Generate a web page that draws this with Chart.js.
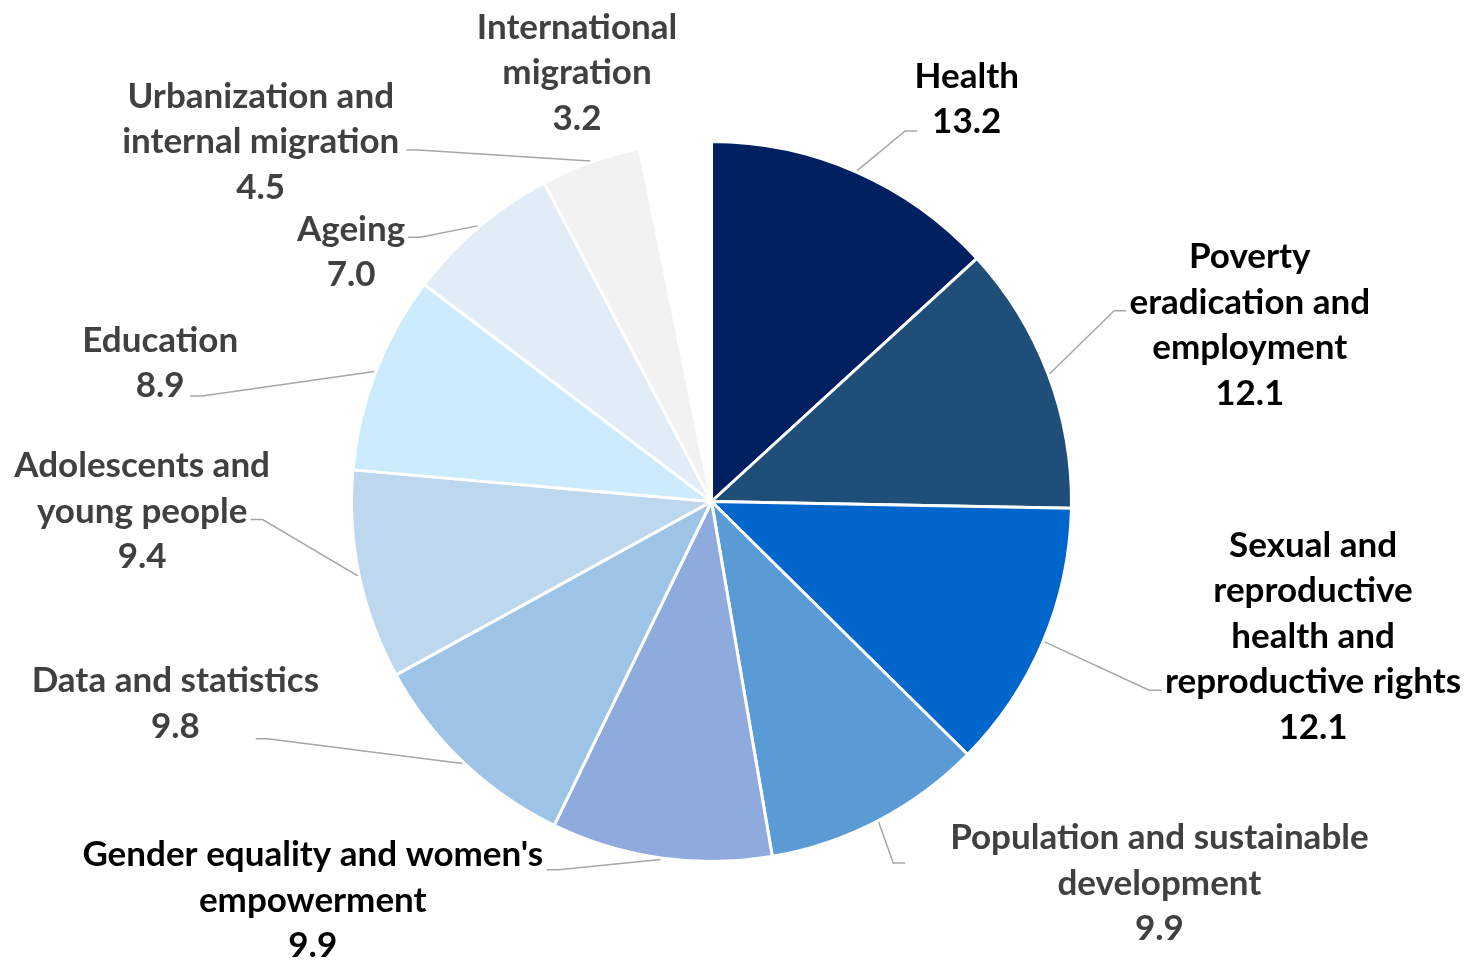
<!DOCTYPE html>
<html>
<head>
<meta charset="utf-8">
<script src="https://cdn.jsdelivr.net/npm/chart.js@4.4.1/dist/chart.umd.min.js"></script>
<style>
html, body { margin: 0; padding: 0; background: #fff; }
canvas { display: block; }
</style>
</head>
<body>
<canvas id="pie" width="1467" height="963"></canvas>
<script>
// categories, split the way the labels wrap
const categories = [
  ['Health'],
  ['Poverty', 'eradication and', 'employment'],
  ['Sexual and', 'reproductive', 'health and', 'reproductive rights'],
  ['Population and sustainable', 'development'],
  ["Gender equality and women's", 'empowerment'],
  ['Data and statistics'],
  ['Adolescents and', 'young people'],
  ['Education'],
  ['Ageing'],
  ['Urbanization and', 'internal migration'],
  ['International', 'migration']
];
const shares = [13.2, 12.1, 12.1, 9.9, 9.9, 9.8, 9.4, 8.9, 7.0, 4.5, 3.2];

const sliceColors = ['#002060', '#1F4E79', '#0066CC', '#5B9BD5', '#8FAADC', '#9DC3E6',
  '#BDD7EE', '#CCEBFC', '#E2ECF7', '#F2F2F2', '#FFFFFF'];
const labelColors = ['#000000', '#000000', '#000000', '#404040', '#000000', '#404040',
  '#404040', '#404040', '#404040', '#404040', '#404040'];

// label block centre and leader hook, in radius units from the pie centre
const labelPos = [[0.706, -1.113], [1.489, -0.487], [1.664, 0.374], [1.239, 1.056], [-1.103, 1.103],
  [-1.483, 0.559], [-1.575, 0.028], [-1.525, -0.382], [-0.997, -0.690], [-1.247, -0.994], [-0.372, -1.186]];
const hookPos = [[0.569, -1.025], [1.147, -0.528], [1.244, 0.522], [0.536, 1.0], [-0.456, 1.019],
  [-1.261, 0.656], [-1.275, 0.05], [-1.442, -0.292], [-0.839, -0.731], [-0.844, -0.972], null];

const lineH = 45.5;

const outsideLabels = {
  id: 'outsideLabels',
  afterDraw(chart) {
    const ctx = chart.ctx;
    const meta = chart.getDatasetMeta(0);
    ctx.save();
    ctx.font = 'bold 35px Lato';
    ctx.textAlign = 'center';
    ctx.textBaseline = 'middle';
    ctx.strokeStyle = '#A6A6A6';
    ctx.lineWidth = 1.5;
    meta.data.forEach((arc, i) => {
      const p = arc.getProps(['x', 'y', 'startAngle', 'endAngle', 'outerRadius'], true);
      const mid = (p.startAngle + p.endAngle) / 2;
      const r = p.outerRadius + 1.5;
      if (hookPos[i]) {
        const hx = p.x + hookPos[i][0] * r;
        const hy = p.y + hookPos[i][1] * r;
        const dir = hx > p.x ? -1 : 1;
        ctx.beginPath();
        ctx.moveTo(p.x + Math.cos(mid) * r, p.y + Math.sin(mid) * r);
        ctx.lineTo(hx + dir * 12, hy);
        ctx.lineTo(hx, hy);
        ctx.stroke();
      }
      const lines = categories[i].concat(shares[i].toFixed(1));
      const cx = p.x + labelPos[i][0] * r;
      const cy = p.y + labelPos[i][1] * r;
      const top = cy - (lines.length - 1) * lineH / 2;
      ctx.fillStyle = labelColors[i];
      lines.forEach((t, k) => ctx.fillText(t, cx, top + k * lineH));
    });
    ctx.restore();
  }
};

function draw() {
  new Chart(document.getElementById('pie'), {
    type: 'pie',
    data: {
      labels: categories.map(c => c.join(' ')),
      datasets: [{
        data: shares,
        backgroundColor: sliceColors,
        borderColor: '#FFFFFF',
        borderWidth: 3
      }]
    },
    options: {
      responsive: false,
      animation: false,
      devicePixelRatio: 1,
      layout: { padding: { left: 350, right: 394, top: 140, bottom: 100 } },
      plugins: {
        legend: { display: false },
        tooltip: { enabled: false }
      }
    },
    plugins: [outsideLabels]
  });
}

if (document.fonts && document.fonts.load) {
  document.fonts.load('bold 35px Lato').then(draw, draw);
} else {
  draw();
}
</script>
</body>
</html>
